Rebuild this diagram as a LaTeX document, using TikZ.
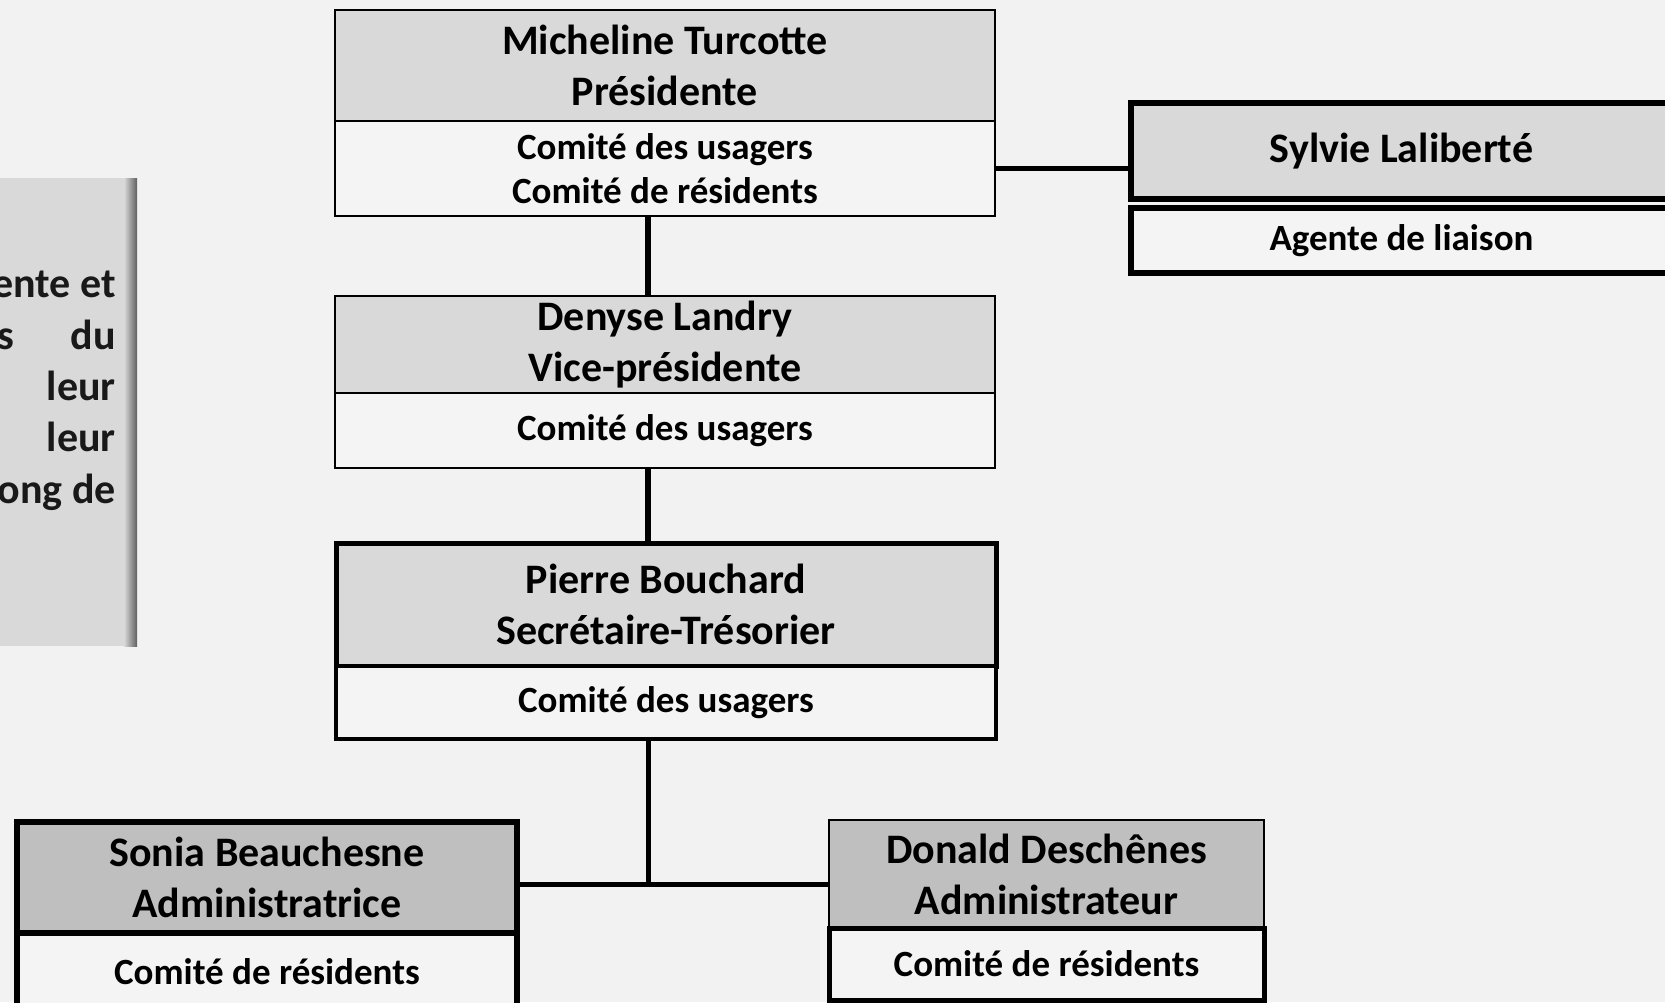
\documentclass[tikz,border=0pt]{standalone}
\usepackage{fontspec}
\setmainfont{Carlito}
\usetikzlibrary{positioning}
\definecolor{bg}{HTML}{F2F2F2}
\definecolor{headgray}{HTML}{D9D9D9}
\definecolor{darkhead}{HTML}{BFBFBF}
\definecolor{comfill}{HTML}{F4F4F4}

\begin{document}
\begin{tikzpicture}[x=1pt,y=-1pt,font=\bfseries,node distance=0pt,line width=2.5pt]

	\tikzset{node head/.style={rectangle, draw=black,
			fill=headgray, outer sep=0pt, inner sep=0pt, align=center,
			font=\bfseries\fontsize{42}{51}\selectfont}}
	\tikzset{node com/.style={rectangle, draw=black,
			fill=comfill, outer sep=0pt, inner sep=0pt, align=center,
			font=\bfseries\fontsize{37}{44.6}\selectfont}}
	\tikzset{note text/.style={font=\bfseries\fontsize{42}{51}\selectfont,
			text=black!90, inner sep=0pt}}

	\useasboundingbox[fill=bg] (0,0) rectangle (1665,1002);

	% note on the left (cut by the page)
	\fill[headgray] (-10,178) rectangle (137,646);
	\shade[left color=headgray, right color=gray!75!black] (124,178) rectangle (137,646);
	\node[note text, anchor=base east] (n1) at (117,297) {ente et};
	\node[note text, anchor=base east] (n2a) at (16,349) {s};
	\node[note text, anchor=base east] (n2b) at (117,349) {du};
	\node[note text, anchor=base east] (n3) at (117,400) {leur};
	\node[note text, anchor=base east] (n4) at (117,451) {leur};
	\node[note text, anchor=base east] (n5) at (117,503) {ong de};

	% board
	\node[node head, minimum width=660pt, minimum height=111pt] (pres) at (665,65.5) {Micheline Turcotte\\Présidente};
	\node[node com, minimum width=660pt, minimum height=95pt, below=of pres] (presCom) {Comité des usagers\\Comité de résidents};

	\node[node head, minimum width=660pt, minimum height=97pt] (vice) at (665,344.5) {Denyse Landry\\Vice-présidente};
	\node[node com, minimum width=660pt, minimum height=75pt, below=of vice] (viceCom) {Comité des usagers};

	\node[node head, line width=5pt, minimum width=660pt, minimum height=123pt] (sec) at (666,604.5) {Pierre Bouchard\\Secrétaire-Trésorier};
	\node[node com, line width=3.5pt, minimum width=660pt, minimum height=73pt, below=of sec] (secCom) {Comité des usagers};

	\node[node head, line width=6pt, minimum width=541pt, minimum height=96pt] (liai) at (1401.5,151) {Sylvie Laliberté};
	\node[node com, line width=6pt, minimum width=541pt, minimum height=65pt, below=9pt of liai] (liaiCom) {Agente de liaison};

	\node[node head, fill=darkhead, line width=6pt, minimum width=500pt, minimum height=111pt] (admA) at (267,877.5) {Sonia Beauchesne\\Administratrice};
	\node[node com, line width=6pt, minimum width=500pt, minimum height=77pt, below=of admA] (admACom) {Comité de résidents};

	\node[node head, fill=darkhead, minimum width=435pt, minimum height=108pt] (admB) at (1046.5,874) {Donald Deschênes\\Administrateur};
	\node[node com, line width=5pt, minimum width=435pt, minimum height=72pt, below=of admB] (admBCom) {Comité de résidents};

	\coordinate (trunk) at (648,0);
	\coordinate (fork) at (648,884.5);

	\draw[line width=6pt]
	(presCom.south -| trunk) edge (vice.north -| trunk)
	(viceCom.south -| trunk) edge (sec.north -| trunk);
	\draw[line width=5pt]
	(secCom.south -| trunk) edge (fork)
	(fork -| admA.east) edge (fork -| admB.west)
	(presCom.east) edge (presCom.east -| liai.west);
\end{tikzpicture}
\end{document}
